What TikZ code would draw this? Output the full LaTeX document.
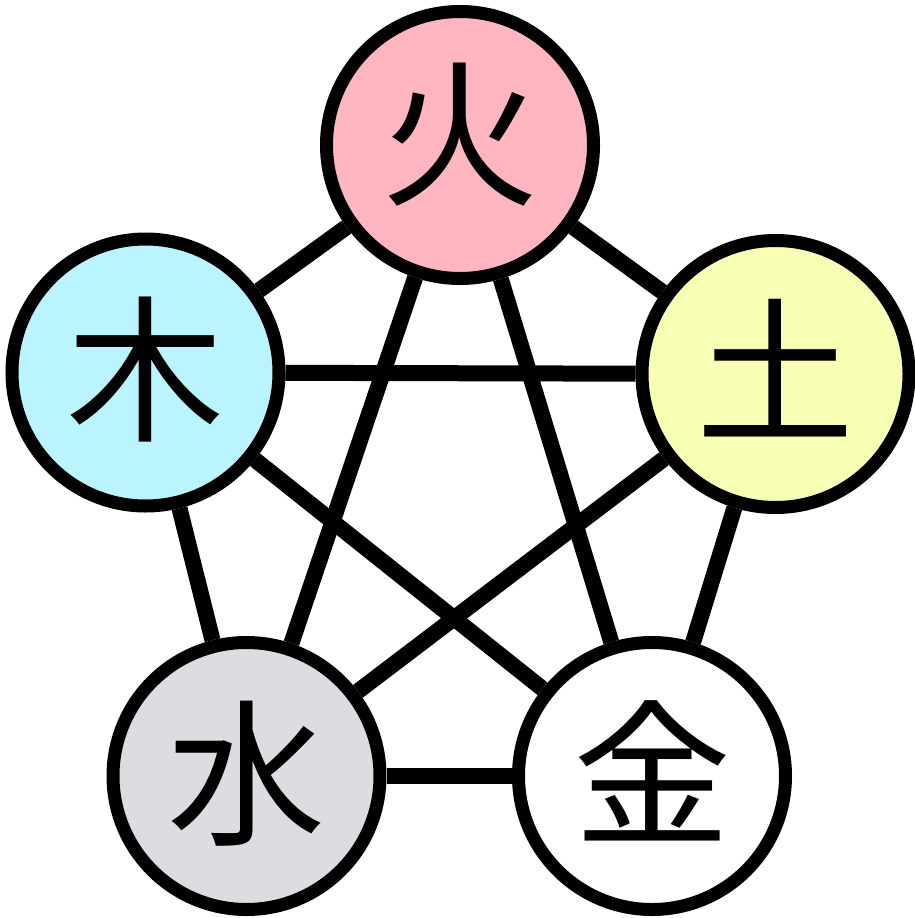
\documentclass[tikz,border=0pt]{standalone}
\usepackage{fontspec}
\newfontfamily\cjk{Noto Sans CJK JP}
\usetikzlibrary{backgrounds}
\definecolor{firecol}{RGB}{255,182,193}
\definecolor{woodcol}{RGB}{186,244,255}
\definecolor{earthcol}{RGB}{248,255,180}
\definecolor{watercol}{RGB}{220,221,224}
\definecolor{metalcol}{RGB}{255,255,255}
\tikzset{
  element/.style={circle, draw=black, line width=13pt, minimum size=267pt, inner sep=0pt,
    font=\cjk\fontsize{158}{158}\selectfont, text height=136pt, text depth=22pt},
  link/.style={draw=black, line width=16pt}
}
\begin{document}
\begin{tikzpicture}[x=1pt,y=-1pt]
\useasboundingbox (0,0) rectangle (915,918);
\node[element, fill=firecol, text depth=40pt]  (fire)  at (460,145) {火};
\node[element, fill=woodcol]  (wood)  at (145.5,372.5) {木};
\node[element, fill=earthcol] (earth) at (775.5,374) {土};
\node[element, fill=watercol] (water) at (246.5,776) {水};
\node[element, fill=metalcol] (metal) at (652,776) {金};
\begin{scope}[on background layer]
\draw[link] (fire) -- (wood);
\draw[link] (fire) -- (earth);
\draw[link] (wood) -- (water);
\draw[link] (earth) -- (metal);
\draw[link] (water) -- (metal);
\draw[link] (fire) -- (water);
\draw[link] (fire) -- (metal);
\draw[link] (wood) -- (earth);
\draw[link] (wood) -- (metal);
\draw[link] (earth) -- (water);
\end{scope}
\end{tikzpicture}
\end{document}
